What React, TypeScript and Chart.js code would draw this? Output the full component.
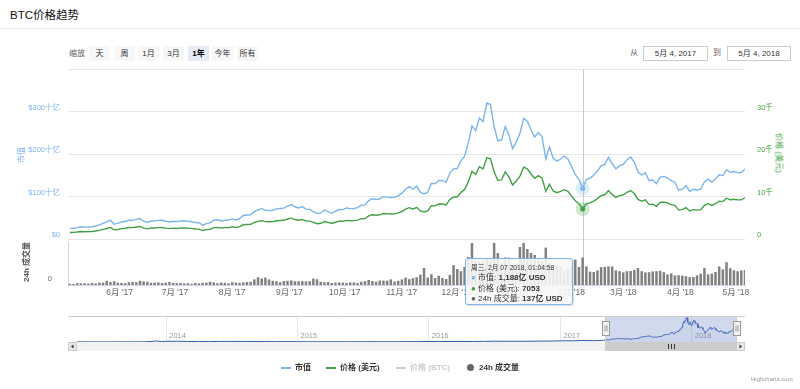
import React, { useEffect, useRef } from "react";
import { Chart, registerables } from "chart.js";

Chart.register(...registerables);

const FONT = '"Liberation Sans", Arial, "Noto Sans CJK SC", sans-serif';
const BLUE = "#7cb5ec";
const GREEN = "#43a047";
const VOL = "#808080";

const DAY = 86400000;
const X_MIN = Date.UTC(2017, 4, 4);
const RANGE_END = Date.UTC(2018, 4, 4);
const X_MAX = Date.UTC(2018, 4, 6);
const NAV_MIN = Date.UTC(2013, 3, 28);

// samples every 2 days starting 2017-05-05
// 市值 (十亿 USD)
const marketCap = [
  24.9, 25.4, 26.7, 28.7, 28.0, 28.4, 28.7, 30.6, 33.3, 36.7, 40.4, 44.3, 35.0, 36.7,
  40.1, 41.3, 44.2, 43.9, 46.2, 48.3, 41.8, 39.0, 42.3, 42.6, 43.9, 44.2, 41.8, 40.1, 41.9,
  40.8, 42.4, 42.9, 41.5, 41.1, 38.7, 38.3, 32.7, 36.2, 37.8, 44.1, 45.1, 42.4, 44.1, 44.7, 47.2,
  44.9, 47.9, 55.3, 56.4, 56.9, 64.4, 68.5, 71.4, 67.7, 66.8, 67.7, 71.0, 71.8, 72.6, 77.6,
  81.2, 75.9, 72.9, 76.2, 70.4, 69.6, 64.6, 59.7, 61.3, 67.9, 64.6, 60.5, 65.3, 69.4, 69.1,
  73.0, 71.5, 71.8, 73.8, 79.4, 80.3, 90.4, 94.7, 93.1, 94.7, 99.7, 98.6, 97.7, 98.1, 102.2, 107.9,
  117.1, 123.1, 117.1, 124.3, 110.1, 105.9, 110.1, 130.9, 130.1, 137.6, 137.3, 133.9, 155.1, 165.1,
  165.8, 183.9, 195.1, 226.1, 266.3, 254.6, 284.8, 276.4, 319.9, 316.6, 264.7, 231.2, 232.8, 264.7, 244.6, 212.7,
  228.5, 248.6, 283.9, 277.2, 257.0, 240.2, 250.3, 240.2, 188.2, 216.7, 189.8, 183.1, 188.2, 194.9, 188.2, 170.3,
  151.7, 139.9, 118.8, 139.9, 143.3, 150.1, 160.2, 172.0, 175.3, 192.2, 177.0, 165.2, 172.0, 175.3,
  186.1, 192.9, 181.0, 157.4, 150.6, 155.7, 137.1, 138.7, 130.3, 145.5, 147.2, 143.8, 137.1, 133.7, 115.1,
  117.2, 125.7, 112.1, 117.2, 115.5, 117.2, 134.1, 140.9, 134.1, 140.9, 151.1, 149.4, 163.0, 157.1, 158.8, 156.2, 156.2,
  164.9,
];

// 价格 (美元)
const priceUsd = [
  1530, 1560, 1640, 1760, 1720, 1740, 1760, 1880, 2040, 2250, 2480, 2720, 2150, 2250,
  2450, 2520, 2700, 2680, 2820, 2950, 2550, 2380, 2580, 2600, 2680, 2700, 2550, 2450, 2560,
  2480, 2580, 2610, 2520, 2500, 2350, 2330, 1990, 2200, 2300, 2680, 2740, 2580, 2680, 2720, 2860,
  2720, 2900, 3350, 3420, 3450, 3900, 4150, 4330, 4100, 4050, 4100, 4300, 4350, 4400, 4700,
  4900, 4580, 4400, 4600, 4250, 4200, 3900, 3600, 3700, 4100, 3900, 3650, 3940, 4190, 4170,
  4390, 4300, 4320, 4440, 4780, 4830, 5440, 5700, 5600, 5700, 6000, 5930, 5880, 5900, 6150, 6470,
  7020, 7380, 7020, 7450, 6600, 6350, 6600, 7850, 7800, 8250, 8230, 8030, 9300, 9900,
  9900, 10980, 11650, 13500, 15900, 15200, 17000, 16500, 19100, 18900, 15800, 13800, 13900, 15800, 14600, 12700,
  13600, 14800, 16900, 16500, 15300, 14300, 14900, 14300, 11200, 12900, 11300, 10900, 11200, 11600, 11200, 10100,
  9000, 8300, 7053, 8300, 8500, 8900, 9500, 10200, 10400, 11400, 10500, 9800, 10200, 10400,
  11000, 11400, 10700, 9300, 8900, 9200, 8100, 8200, 7700, 8600, 8700, 8500, 8100, 7900, 6800,
  6900, 7400, 6600, 6900, 6800, 6900, 7900, 8300, 7900, 8300, 8900, 8800, 9600, 9250, 9350, 9200, 9200,
  9700,
];

// 24h 成交量 (十亿 USD)
const volume24h = [
  0.6, 0.5, 0.9, 0.8, 0.9, 0.7, 1.0, 0.8, 1.2, 1.2, 2.1, 1.5, 1.9, 1.2,
  1.0, 0.9, 1.4, 1.5, 1.4, 2.1, 1.8, 1.6, 1.1, 1.2, 1.3, 1.0, 1.2, 1.5, 1.0,
  0.9, 1.0, 0.8, 0.9, 0.6, 1.0, 0.8, 1.1, 1.2, 1.6, 1.3, 0.9, 1.2, 1.1, 0.8, 1.4,
  1.2, 1.1, 1.3, 1.5, 1.6, 2.8, 3.9, 3.2, 3.7, 2.8, 2.1, 1.9, 1.4, 2.0, 2.1,
  2.3, 1.9, 1.9, 1.9, 1.8, 1.9, 3.2, 2.9, 1.6, 1.4, 1.5, 1.0, 1.2, 1.3, 1.2,
  1.0, 1.3, 1.3, 1.0, 1.6, 1.9, 2.5, 2.0, 1.6, 2.2, 2.2, 2.2, 2.8, 1.7, 2.1, 2.8,
  3.7, 2.9, 3.4, 3.9, 5.2, 8.5, 3.7, 5.4, 3.5, 4.6, 3.5, 3.0, 5.1, 10.0,
  8.0, 6.9, 9.0, 14.0, 21.0, 12.0, 11.7, 12.1, 13.3, 12.4, 21.0, 16.0, 10.7, 13.8, 13.7, 10.1,
  10.3, 19.0, 21.0, 18.0, 16.0, 15.0, 12.8, 12.1, 18.7, 11.0, 9.7, 9.9, 9.4, 7.1, 8.0, 9.5,
  12.7, 9.0, 13.7, 9.3, 6.7, 6.5, 7.3, 8.9, 9.1, 9.3, 9.3, 7.3, 6.9, 6.3,
  6.9, 7.0, 7.6, 8.5, 6.9, 6.3, 6.4, 6.8, 6.9, 7.1, 6.4, 5.3, 5.8, 4.8, 4.9,
  4.7, 4.4, 3.9, 4.0, 4.8, 5.6, 8.6, 5.3, 5.7, 6.5, 9.3, 7.8, 11.4, 8.4, 7.4, 6.9, 7.3,
  7.5,
];

const HOVER_INDEX = 139; // 2018-02-07

// navigator history (市值, 十亿 USD)
const navDates = [
  "2013-04-28", "2013-06-01", "2013-07-01", "2013-08-01", "2013-09-01", "2013-10-01", "2013-11-01",
  "2013-11-20", "2013-12-04", "2013-12-18", "2014-01-01", "2014-02-01", "2014-03-01", "2014-04-01",
  "2014-05-01", "2014-06-01", "2014-07-01", "2014-08-01", "2014-09-01", "2014-10-01", "2014-11-01",
  "2014-12-01", "2015-01-01", "2015-02-01", "2015-03-01", "2015-04-01", "2015-05-01", "2015-06-01",
  "2015-07-01", "2015-08-01", "2015-09-01", "2015-10-01", "2015-11-01", "2015-12-01", "2016-01-01",
  "2016-02-01", "2016-03-01", "2016-04-01", "2016-05-01", "2016-06-01", "2016-07-01", "2016-08-01",
  "2016-09-01", "2016-10-01", "2016-11-01", "2016-12-01", "2017-01-01", "2017-02-01", "2017-03-01",
  "2017-04-01", "2017-04-15", "2017-05-01",
];
const navCap = [
  1.5, 1.4, 1.0, 1.1, 1.6, 1.5, 2.4,
  6.5, 13.5, 6.5, 9.3, 10.2, 7.0, 5.7,
  5.6, 8.1, 8.1, 7.7, 6.4, 5.3, 4.6,
  5.2, 4.3, 3.1, 3.5, 3.5, 3.3, 3.1,
  3.7, 4.2, 3.3, 3.5, 4.9, 5.4, 6.5,
  5.8, 6.6, 6.4, 7.0, 8.4, 10.8, 9.4,
  9.6, 9.8, 11.7, 12.0, 15.5, 15.4, 19.1,
  17.7, 19.4, 23.3,
];

const yearTicks = [2014, 2015, 2016, 2017, 2018];
const rangeButtons = ["天", "周", "1月", "3月", "1年", "今年", "所有"];
const selectedButton = "1年";

const sampleTimes = marketCap.map((_, i) => X_MIN + (2 * i + 1) * DAY);
const monthTicks: number[] = [];
for (let k = 0; k < 12; k++) monthTicks.push(Date.UTC(2017, 5 + k, 1));
const monthLabel = (v: number) => {
  const d = new Date(v);
  return `${d.getUTCMonth() + 1}月 '${String(d.getUTCFullYear()).slice(2)}`;
};

const SB = 9; // scrollbar height
const AX = 7.5; // y axis label font size
const XAX = 8.5; // x axis label font size

const noPadY = (w: number) => (s: any) => {
  s.width = w;
  s.paddingTop = 0;
  s.paddingBottom = 0;
};

export default function App() {
  const mainRef = useRef<HTMLCanvasElement>(null);
  const volRef = useRef<HTMLCanvasElement>(null);
  const navRef = useRef<HTMLCanvasElement>(null);

  useEffect(() => {
    const hoverX = sampleTimes[HOVER_INDEX];
    const tickFont = { family: FONT, size: AX };

    const mainPlugin = {
      id: "mainDecor",
      beforeDatasetsDraw(chart: any) {
        const { ctx, chartArea } = chart;
        const x = Math.round(chart.scales.x.getPixelForValue(hoverX)) + 0.5;
        ctx.save();
        ctx.strokeStyle = "#cccccc";
        ctx.lineWidth = 1;
        ctx.beginPath();
        ctx.moveTo(x, chartArea.top);
        ctx.lineTo(x, chart.height);
        ctx.stroke();
        ctx.restore();
      },
      afterDatasetsDraw(chart: any) {
        const { ctx } = chart;
        const specs = [
          { i: 0, c: BLUE, halo: "rgba(124,181,236,0.25)" },
          { i: 1, c: GREEN, halo: "rgba(67,160,71,0.25)" },
        ];
        ctx.save();
        for (const s of specs) {
          const el = chart.getDatasetMeta(s.i).data[HOVER_INDEX];
          ctx.fillStyle = s.halo;
          ctx.beginPath();
          ctx.arc(el.x, el.y, 7, 0, Math.PI * 2);
          ctx.fill();
          ctx.fillStyle = s.c;
          ctx.beginPath();
          ctx.arc(el.x, el.y, 2.5, 0, Math.PI * 2);
          ctx.fill();
        }
        ctx.restore();
      },
    };

    const mainChart = new Chart(mainRef.current!, {
      type: "line",
      data: {
        datasets: [
          {
            label: "市值",
            data: sampleTimes.map((x, i) => ({ x, y: marketCap[i] })),
            yAxisID: "y",
            borderColor: BLUE,
            borderWidth: 1.4,
            pointRadius: 0,
            tension: 0,
          },
          {
            label: "价格 (美元)",
            data: sampleTimes.map((x, i) => ({ x, y: priceUsd[i] })),
            yAxisID: "y2",
            borderColor: GREEN,
            borderWidth: 1.4,
            pointRadius: 0,
            tension: 0,
          },
        ],
      },
      options: {
        responsive: false,
        animation: false,
        events: [],
        layout: { padding: { top: 9, bottom: 4, left: 0, right: 0 } },
        plugins: { legend: { display: false }, tooltip: { enabled: false } },
        scales: {
          x: { type: "linear", min: X_MIN, max: X_MAX, display: false },
          y: {
            position: "left",
            min: 0,
            max: 400,
            ticks: {
              stepSize: 100,
              color: BLUE,
              font: tickFont,
              padding: 8,
              labelOffset: -4,
              callback: (v: any) => (v === 400 ? "" : v === 0 ? "$0" : `$${v}十亿`),
            },
            grid: { color: "#e6e6e6", drawTicks: false },
            border: { display: false },
            afterFit: noPadY(68),
          },
          y2: {
            position: "right",
            min: 0,
            max: 40000,
            ticks: {
              stepSize: 10000,
              color: GREEN,
              font: tickFont,
              padding: 12,
              labelOffset: -4,
              callback: (v: any) => (v === 40000 ? "" : v === 0 ? "0" : `${v / 1000}千`),
            },
            grid: { display: false, drawTicks: false },
            border: { display: false },
            afterFit: noPadY(55),
          },
        },
      } as any,
      plugins: [mainPlugin],
    });

    const volPlugin = {
      id: "volDecor",
      beforeDatasetsDraw(chart: any) {
        const { ctx, chartArea } = chart;
        const x = Math.round(chart.scales.x.getPixelForValue(hoverX)) + 0.5;
        ctx.save();
        ctx.strokeStyle = "#cccccc";
        ctx.lineWidth = 1;
        ctx.beginPath();
        ctx.moveTo(x, 0);
        ctx.lineTo(x, chartArea.bottom);
        ctx.stroke();
        ctx.restore();
      },
    };

    const volChart = new Chart(volRef.current!, {
      type: "bar",
      data: {
        datasets: [
          {
            label: "24h 成交量",
            data: sampleTimes.map((x, i) => ({ x, y: volume24h[i] })),
            backgroundColor: VOL,
            barPercentage: 0.85,
            categoryPercentage: 0.8,
            yAxisID: "yv",
          },
        ],
      },
      options: {
        responsive: false,
        animation: false,
        events: [],
        layout: { padding: { top: 2, right: 55, left: 0, bottom: 0 } },
        plugins: { legend: { display: false }, tooltip: { enabled: false } },
        scales: {
          x: {
            type: "linear",
            min: X_MIN,
            max: X_MAX,
            offset: false,
            afterBuildTicks: (s: any) => {
              s.ticks = monthTicks.map((v) => ({ value: v }));
            },
            ticks: {
              color: "#666666",
              font: { family: FONT, size: XAX },
              padding: 3,
              maxRotation: 0,
              autoSkip: false,
              callback: (v: any) => monthLabel(v),
            },
            grid: { display: true, drawOnChartArea: false, drawTicks: false, offset: false },
            border: { display: true, color: "#ccd6eb" },
            afterFit: (s: any) => {
              s.height = 17;
              s.paddingLeft = 0;
              s.paddingRight = 0;
            },
          },
          yv: {
            position: "left",
            min: 0,
            max: 21.5,
            afterBuildTicks: (s: any) => {
              s.ticks = [{ value: 0 }];
            },
            ticks: {
              color: "#666666",
              font: tickFont,
              padding: 8,
              labelOffset: -6,
              callback: () => "0",
            },
            grid: { display: false },
            border: { display: true, color: "#ccd6eb" },
            afterFit: noPadY(68),
          },
        },
      } as any,
      plugins: [volPlugin],
    });

    const navPlugin = {
      id: "navDecor",
      afterDraw(chart: any) {
        const { ctx, chartArea: a } = chart;
        const xs = chart.scales.x;
        const mL = Math.round(xs.getPixelForValue(X_MIN)) + 0.5;
        const mR = Math.round(xs.getPixelForValue(RANGE_END)) + 0.5;
        const top = Math.round(a.top) + 0.5;
        const bot = Math.round(a.bottom);
        const sL = Math.round(a.left) - SB;
        const sR = Math.round(a.right) + SB;
        ctx.save();
        // year labels
        ctx.fillStyle = "#999999";
        ctx.font = `${AX}px ${FONT}`;
        ctx.textAlign = "left";
        ctx.textBaseline = "middle";
        for (const y of yearTicks) {
          ctx.fillText(String(y), xs.getPixelForValue(Date.UTC(y, 0, 1)) + 3, a.bottom - 6);
        }
        // mask
        ctx.fillStyle = "rgba(102,133,194,0.3)";
        ctx.fillRect(mL, a.top, mR - mL, a.bottom - a.top);
        // scrollbar track
        ctx.fillStyle = "#f2f2f2";
        ctx.fillRect(sL, bot, sR - sL, SB);
        // thumb
        ctx.fillStyle = "#cccccc";
        ctx.fillRect(mL, bot, mR - mL, SB);
        // rifles
        ctx.strokeStyle = "#333333";
        ctx.lineWidth = 1;
        const cx = Math.round((mL + mR) / 2);
        for (const dx of [-3, 0, 3]) {
          ctx.beginPath();
          ctx.moveTo(cx + dx + 0.5, bot + 2);
          ctx.lineTo(cx + dx + 0.5, bot + SB - 2);
          ctx.stroke();
        }
        // buttons
        ctx.fillStyle = "#e6e6e6";
        ctx.fillRect(sL, bot, SB, SB);
        ctx.fillRect(sR - SB, bot, SB, SB);
        ctx.strokeStyle = "#cccccc";
        ctx.strokeRect(sL + 0.5, bot + 0.5, SB - 1, SB - 1);
        ctx.strokeRect(sR - SB + 0.5, bot + 0.5, SB - 1, SB - 1);
        ctx.fillStyle = "#333333";
        const my = bot + SB / 2;
        ctx.beginPath();
        ctx.moveTo(sL + SB / 2 - 1.5, my);
        ctx.lineTo(sL + SB / 2 + 1, my - 2);
        ctx.lineTo(sL + SB / 2 + 1, my + 2);
        ctx.fill();
        ctx.beginPath();
        ctx.moveTo(sR - SB / 2 + 1.5, my);
        ctx.lineTo(sR - SB / 2 - 1, my - 2);
        ctx.lineTo(sR - SB / 2 - 1, my + 2);
        ctx.fill();
        // outline
        ctx.strokeStyle = "#cccccc";
        ctx.beginPath();
        ctx.moveTo(sL, top);
        ctx.lineTo(mL, top);
        ctx.lineTo(mL, bot + SB - 0.5);
        ctx.lineTo(mR, bot + SB - 0.5);
        ctx.lineTo(mR, top);
        ctx.lineTo(sR, top);
        ctx.moveTo(mL, top);
        ctx.lineTo(mR, top);
        ctx.stroke();
        // handles
        const hy = Math.round((a.top + a.bottom) / 2) - 7.5;
        for (const hx of [mL, mR]) {
          const l = Math.round(hx - 4) + 0.5;
          ctx.fillStyle = "#f2f2f2";
          ctx.strokeStyle = "#999999";
          ctx.fillRect(l, hy, 7, 14);
          ctx.strokeRect(l, hy, 7, 14);
          ctx.beginPath();
          ctx.moveTo(l + 2.5, hy + 4);
          ctx.lineTo(l + 2.5, hy + 10);
          ctx.moveTo(l + 4.5, hy + 4);
          ctx.lineTo(l + 4.5, hy + 10);
          ctx.stroke();
        }
        ctx.restore();
      },
    };

    const navData = [
      ...navDates.map((d, i) => ({ x: Date.parse(d + "T00:00:00Z"), y: navCap[i] })),
      ...sampleTimes.map((x, i) => ({ x, y: marketCap[i] })),
    ];

    const navChart = new Chart(navRef.current!, {
      type: "line",
      data: {
        datasets: [
          {
            data: navData,
            borderColor: "#335cad",
            borderWidth: 1,
            backgroundColor: "rgba(51,92,173,0.05)",
            fill: "origin",
            pointRadius: 0,
            tension: 0,
          },
        ],
      },
      options: {
        responsive: false,
        animation: false,
        events: [],
        layout: { padding: { top: 4, left: 68 + SB, right: 55 + SB, bottom: 0 } },
        plugins: { legend: { display: false }, tooltip: { enabled: false } },
        scales: {
          x: {
            type: "linear",
            min: NAV_MIN,
            max: RANGE_END,
            afterBuildTicks: (s: any) => {
              s.ticks = yearTicks.map((y) => ({ value: Date.UTC(y, 0, 1) }));
            },
            ticks: { display: false },
            grid: { color: "#e6e6e6", drawTicks: false },
            border: { display: false },
            afterFit: (s: any) => {
              s.height = 15;
              s.paddingLeft = 0;
              s.paddingRight = 0;
            },
          },
          y: { display: false, min: 0, max: 340 },
        },
      } as any,
      plugins: [navPlugin],
    });

    return () => {
      mainChart.destroy();
      volChart.destroy();
      navChart.destroy();
    };
  }, []);

  const fmt = (n: number) => n.toLocaleString("en-US");
  const tipCap = `${fmt(Math.round(marketCap[HOVER_INDEX] * 10))}亿 USD`;
  const tipPrice = `${priceUsd[HOVER_INDEX]}`;
  const tipVol = `${fmt(Math.round(volume24h[HOVER_INDEX] * 10))}亿 USD`;

  const abs = (s: React.CSSProperties): React.CSSProperties => ({ position: "absolute", ...s });
  const btnLeft = [89, 114, 138, 163, 188, 212, 237];

  return (
    <div
      style={{
        position: "fixed",
        left: 0,
        top: 0,
        width: 800,
        height: 389,
        background: "#ffffff",
        fontFamily: FONT,
        overflow: "hidden",
      }}
    >
      <div style={abs({ left: 10, top: 7, fontSize: 11.5, color: "#111", lineHeight: "16px", whiteSpace: "nowrap" })}>
        BTC价格趋势
      </div>
      <div style={abs({ left: 0, top: 28, width: 800, height: 1, background: "#eeeeee" })} />

      <div style={abs({ left: 69, top: 46, fontSize: 8, color: "#666", lineHeight: "15px" })}>缩放</div>
      {rangeButtons.map((b, i) => (
        <div
          key={b}
          style={abs({
            left: btnLeft[i],
            top: 46,
            width: 21,
            height: 15,
            lineHeight: "15px",
            textAlign: "center",
            fontSize: 8,
            whiteSpace: "nowrap",
            background: b === selectedButton ? "#e6ebf5" : "#f7f7f7",
            fontWeight: b === selectedButton ? "bold" : "normal",
            color: b === selectedButton ? "#000" : "#333",
          })}
        >
          {b}
        </div>
      ))}
      <div style={abs({ left: 630, top: 45, fontSize: 8, color: "#666", lineHeight: "15px" })}>从</div>
      <div
        style={abs({
          left: 643,
          top: 46,
          width: 63,
          height: 13,
          border: "1px solid #cccccc",
          fontSize: 8,
          lineHeight: "13px",
          textAlign: "center",
          color: "#333",
          whiteSpace: "nowrap",
        })}
      >
        5月 4, 2017
      </div>
      <div style={abs({ left: 713, top: 45, fontSize: 8, color: "#666", lineHeight: "15px" })}>到</div>
      <div
        style={abs({
          left: 727,
          top: 46,
          width: 62,
          height: 13,
          border: "1px solid #cccccc",
          fontSize: 8,
          lineHeight: "13px",
          textAlign: "center",
          color: "#333",
          whiteSpace: "nowrap",
        })}
      >
        5月 4, 2018
      </div>

      <canvas ref={mainRef} width={800} height={183} style={abs({ left: 0, top: 60 })} />
      <canvas ref={volRef} width={800} height={62} style={abs({ left: 0, top: 240 })} />
      <canvas ref={navRef} width={800} height={45} style={abs({ left: 0, top: 312 })} />

      <div
        style={abs({
          left: 20,
          top: 155,
          transform: "translate(-50%, -50%) rotate(-90deg)",
          fontSize: 8,
          color: BLUE,
          whiteSpace: "nowrap",
        })}
      >
        市值
      </div>
      <div
        style={abs({
          left: 25,
          top: 262,
          transform: "translate(-50%, -50%) rotate(-90deg)",
          fontSize: 8,
          color: "#555",
          fontWeight: "bold",
          whiteSpace: "nowrap",
        })}
      >
        24h 成交量
      </div>
      <div
        style={abs({
          left: 780,
          top: 153,
          transform: "translate(-50%, -50%) rotate(90deg)",
          fontSize: 8,
          color: GREEN,
          whiteSpace: "nowrap",
        })}
      >
        价格 (美元)
      </div>

      <div
        style={abs({
          left: 465,
          top: 258,
          width: 108,
          height: 47,
          border: `1px solid ${BLUE}`,
          borderRadius: 3,
          background: "rgba(247,247,247,0.88)",
          boxShadow: "1px 1px 2px rgba(0,0,0,0.15)",
          padding: "4px 0 0 5px",
          boxSizing: "border-box",
          fontSize: 8,
          color: "#333",
          lineHeight: "10.3px",
          whiteSpace: "nowrap",
        })}
      >
        <div style={{ fontSize: 6.7 }}>周三, 2月 07 2018, 01:04:58</div>
        <div>
          <span style={{ color: BLUE }}>●</span> 市值: <b>{tipCap}</b>
        </div>
        <div>
          <span style={{ color: GREEN }}>●</span> 价格 (美元): <b>{tipPrice}</b>
        </div>
        <div>
          <span style={{ color: "#666" }}>●</span> 24h 成交量: <b>{tipVol}</b>
        </div>
      </div>

      {[
        { l: 281, c: BLUE, t: "市值", tc: "#333" },
        { l: 326, c: GREEN, t: "价格 (美元)", tc: "#333" },
        { l: 396, c: "#cccccc", t: "价格 (BTC)", tc: "#cccccc" },
      ].map((it) => (
        <React.Fragment key={it.t}>
          <div style={abs({ left: it.l, top: 367, width: 10, height: 1.5, background: it.c })} />
          <div
            style={abs({
              left: it.l + 14,
              top: 362,
              fontSize: 8,
              fontWeight: "bold",
              color: it.tc,
              lineHeight: "12px",
              whiteSpace: "nowrap",
            })}
          >
            {it.t}
          </div>
        </React.Fragment>
      ))}
      <div style={abs({ left: 467, top: 364, width: 7, height: 7, borderRadius: 4, background: "#666" })} />
      <div
        style={abs({
          left: 479,
          top: 362,
          fontSize: 8,
          fontWeight: "bold",
          color: "#333",
          lineHeight: "12px",
          whiteSpace: "nowrap",
        })}
      >
        24h 成交量
      </div>
      <div style={abs({ left: 751, top: 375, fontSize: 6, color: "#999", lineHeight: "8px", whiteSpace: "nowrap" })}>
        Highcharts.com
      </div>
    </div>
  );
}
